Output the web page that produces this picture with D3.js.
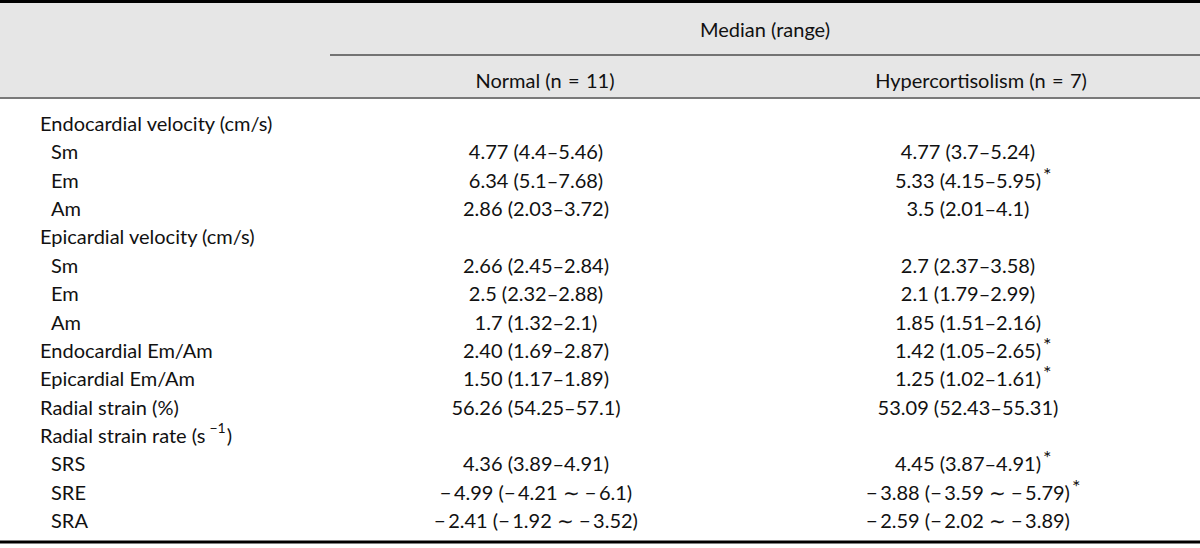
<!DOCTYPE html>
<html>
<head>
<meta charset="utf-8">
<script src="https://cdn.jsdelivr.net/npm/d3@7/dist/d3.min.js"></script>
<style>
  body { margin: 0; background: #fff; }
  text { font-family: Lato, 'Open Sans', sans-serif; font-size: 20px; fill: #111; }
</style>
</head>
<body>
<div id="table-1"></div>
<script>
const width = 1200
const height = 548

// rows of the table, {..} marks a superscript
const labels = [
  'Endocardial velocity (cm/s)',
  'Sm',
  'Em',
  'Am',
  'Epicardial velocity (cm/s)',
  'Sm',
  'Em',
  'Am',
  'Endocardial Em/Am',
  'Epicardial Em/Am',
  'Radial strain (%)',
  'Radial strain rate (s{−1})',
  'SRS',
  'SRE',
  'SRA'
]
const indented = [false, true, true, true, false, true, true, true, false, false, false, false, true, true, true]

const normal = [
  '',
  '4.77 (4.4–5.46)',
  '6.34 (5.1–7.68)',
  '2.86 (2.03–3.72)',
  '',
  '2.66 (2.45–2.84)',
  '2.5 (2.32–2.88)',
  '1.7 (1.32–2.1)',
  '2.40 (1.69–2.87)',
  '1.50 (1.17–1.89)',
  '56.26 (54.25–57.1)',
  '',
  '4.36 (3.89–4.91)',
  '−4.99 (−4.21 ∼ −6.1)',
  '−2.41 (−1.92 ∼ −3.52)'
]

const hyper = [
  '',
  '4.77 (3.7–5.24)',
  '5.33 (4.15–5.95)',
  '3.5 (2.01–4.1)',
  '',
  '2.7 (2.37–3.58)',
  '2.1 (1.79–2.99)',
  '1.85 (1.51–2.16)',
  '1.42 (1.05–2.65)',
  '1.25 (1.02–1.61)',
  '53.09 (52.43–55.31)',
  '',
  '4.45 (3.87–4.91)',
  '−3.88 (−3.59 ∼ −5.79)',
  '−2.59 (−2.02 ∼ −3.89)'
]
const hyperStar = [false, false, true, false, false, false, false, false, true, true, false, false, true, true, false]

const groupTitle = 'Median (range)'
const columns = ['Normal (n = 11)', 'Hypercortisolism (n = 7)']

const svg = d3
  .select('#table-1')
  .append('svg')
  .attr('width', width)
  .attr('height', height)

const yPositionScale = d3
  .scalePoint()
  .domain(d3.range(labels.length))
  .range([123, 520])

const xColumnScale = d3
  .scaleOrdinal()
  .domain(columns)
  .range([536, 968])

const xHeadScale = d3
  .scaleOrdinal()
  .domain(columns)
  .range([545, 981])

// minus signs and tilde get a little air, as in the printed table
const spaced = s => s.replace(/−/g, '−\u2009').replace(/ = /g, '\u200a = \u200a')

// header band
svg
  .append('rect')
  .attr('x', 0)
  .attr('y', 3)
  .attr('width', width)
  .attr('height', 95)
  .attr('fill', '#e6e6e6')

svg
  .append('line')
  .attr('x1', 0)
  .attr('x2', width)
  .attr('y1', 1.5)
  .attr('y2', 1.5)
  .attr('stroke', '#000')
  .attr('stroke-width', 3)

svg
  .append('line')
  .attr('x1', 330)
  .attr('x2', width)
  .attr('y1', 55)
  .attr('y2', 55)
  .attr('stroke', '#000')
  .attr('stroke-width', 1.2)

svg
  .append('line')
  .attr('x1', 0)
  .attr('x2', width)
  .attr('y1', 98)
  .attr('y2', 98)
  .attr('stroke', '#7a7a7a')
  .attr('stroke-width', 2)

svg
  .append('line')
  .attr('x1', 0)
  .attr('x2', width)
  .attr('y1', 542)
  .attr('y2', 542)
  .attr('stroke', '#000')
  .attr('stroke-width', 3)

svg
  .append('text')
  .attr('x', (330 + width) / 2)
  .attr('y', 29)
  .attr('text-anchor', 'middle')
  .attr('dominant-baseline', 'central')
  .text(groupTitle)

svg
  .selectAll('.col-head')
  .data(columns)
  .enter()
  .append('text')
  .attr('class', 'col-head')
  .attr('x', d => xHeadScale(d))
  .attr('y', 80)
  .attr('text-anchor', 'middle')
  .attr('dominant-baseline', 'central')
  .text(d => spaced(d))

// row labels
const labelText = svg
  .selectAll('.row-label')
  .data(labels)
  .enter()
  .append('text')
  .attr('class', 'row-label')
  .attr('x', (d, i) => (indented[i] ? 51 : 40))
  .attr('y', (d, i) => yPositionScale(i))
  .attr('dominant-baseline', 'central')

labelText.each(function (d) {
  const parts = d.split(/\{|\}/)
  const t = d3.select(this)
  parts.forEach((p, j) => {
    if (p === '') return
    if (j % 2 === 1) {
      t.append('tspan')
        .attr('dx', 4)
        .attr('dy', -8)
        .attr('font-size', 14)
        .text(p)
      t.append('tspan').attr('dy', 8).attr('dx', 1).text(')')
    } else if (p !== ')') {
      t.append('tspan').text(p)
    }
  })
})

// values
svg
  .selectAll('.normal')
  .data(normal)
  .enter()
  .append('text')
  .attr('class', 'normal')
  .attr('x', xColumnScale(columns[0]))
  .attr('y', (d, i) => yPositionScale(i))
  .attr('text-anchor', 'middle')
  .attr('dominant-baseline', 'central')
  .text(d => spaced(d))

const hyperText = svg
  .selectAll('.hyper')
  .data(hyper)
  .enter()
  .append('text')
  .attr('class', 'hyper')
  .attr('x', xColumnScale(columns[1]))
  .attr('y', (d, i) => yPositionScale(i))
  .attr('text-anchor', 'middle')
  .attr('dominant-baseline', 'central')
  .text(d => spaced(d))

hyperText.each(function (d, i) {
  if (!hyperStar[i]) return
  const w = this.getComputedTextLength()
  svg
    .append('text')
    .attr('class', 'star')
    .attr('x', xColumnScale(columns[1]) + w / 2 + 2)
    .attr('y', yPositionScale(i) - 6)
    .attr('dominant-baseline', 'central')
    .attr('font-size', 17)
    .text('*')
})
</script>
</body>
</html>
